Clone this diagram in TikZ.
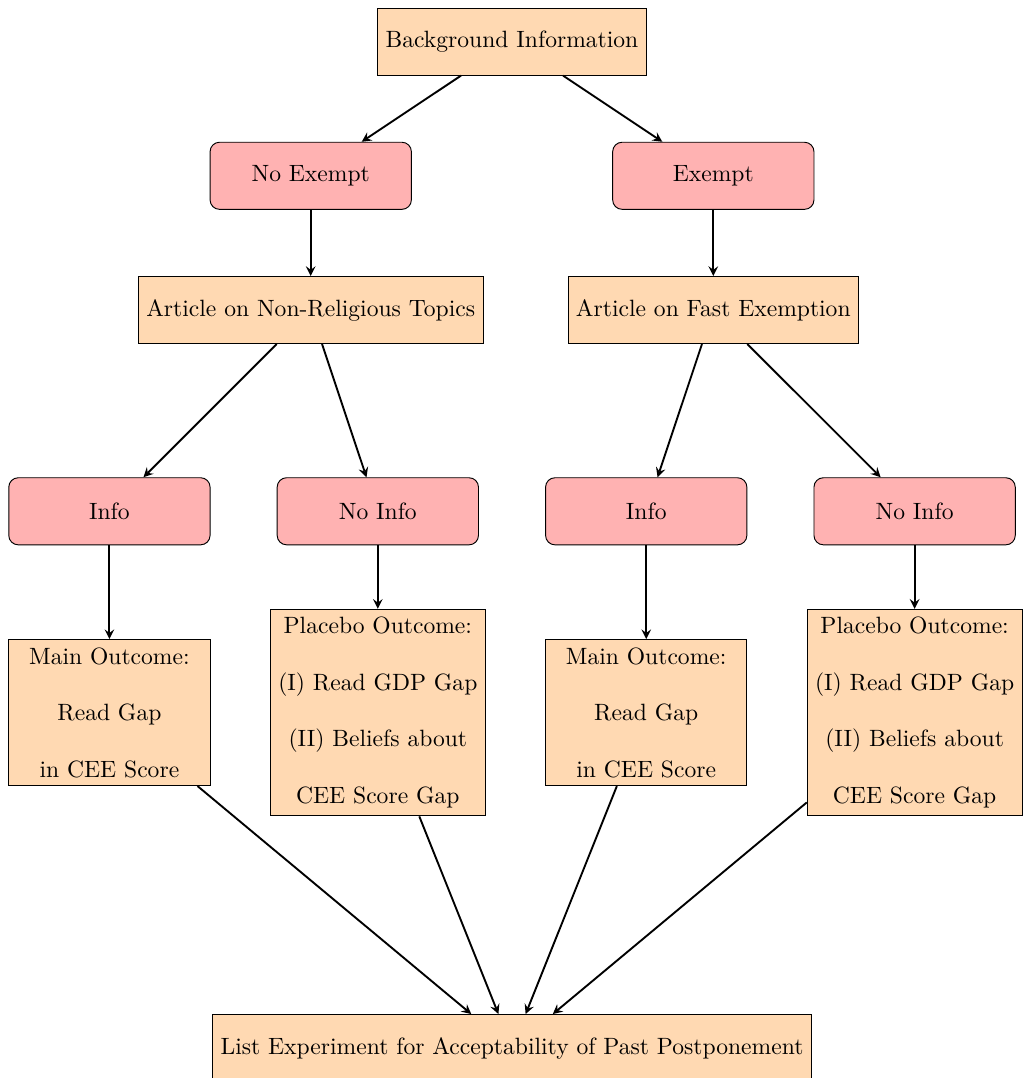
\documentclass[tikz,border=0pt]{standalone}
\usetikzlibrary{arrows}
\definecolor{boxfill}{RGB}{255,217,178}
\definecolor{rfill}{RGB}{255,178,178}
\begin{document}
\begin{tikzpicture}[x=1cm,y=1cm,
  rbox/.style={draw, fill=boxfill, minimum height=1cm, inner sep=3.33pt},
  obox/.style={draw, fill=boxfill, minimum width=3cm, align=center, inner sep=3.33pt},
  pbox/.style={draw, fill=rfill, rounded corners, minimum width=3cm, minimum height=1cm},
  arr/.style={->, >=stealth, thick}]
\useasboundingbox (-7.631,0.62) rectangle (7.631,-15.446);
\node[rbox] (bg) at (0,0) {Background Information};
\node[pbox] (ne) at (-3,-2) {No Exempt};
\node[pbox] (ex) at (3,-2) {Exempt};
\node[rbox] (anr) at (-3,-4) {Article on Non-Religious Topics};
\node[rbox] (afe) at (3,-4) {Article on Fast Exemption};
\node[pbox] (i1) at (-6,-7) {Info};
\node[pbox] (n1) at (-2,-7) {No Info};
\node[pbox] (i2) at (2,-7) {Info};
\node[pbox] (n2) at (6,-7) {No Info};
\node[obox] (m1) at (-6,-10) {Main Outcome:\\[12pt] Read Gap\\[12pt] in CEE Score};
\node[obox] (p1) at (-2,-10) {Placebo Outcome:\\[12pt] (I) Read GDP Gap\\[12pt] (II) Beliefs about\\[12pt] CEE Score Gap};
\node[obox] (m2) at (2,-10) {Main Outcome:\\[12pt] Read Gap\\[12pt] in CEE Score};
\node[obox] (p2) at (6,-10) {Placebo Outcome:\\[12pt] (I) Read GDP Gap\\[12pt] (II) Beliefs about\\[12pt] CEE Score Gap};
\node[rbox] (le) at (0,-15) {List Experiment for Acceptability of Past Postponement};
\draw[arr] (bg) -- (ne);
\draw[arr] (bg) -- (ex);
\draw[arr] (ne) -- (anr);
\draw[arr] (ex) -- (afe);
\draw[arr] (anr) -- (i1);
\draw[arr] (anr) -- (n1);
\draw[arr] (afe) -- (i2);
\draw[arr] (afe) -- (n2);
\draw[arr] (i1) -- (m1);
\draw[arr] (n1) -- (p1);
\draw[arr] (i2) -- (m2);
\draw[arr] (n2) -- (p2);
\draw[arr] (m1) -- (le);
\draw[arr] (p1) -- (le);
\draw[arr] (m2) -- (le);
\draw[arr] (p2) -- (le);
\end{tikzpicture}
\end{document}
